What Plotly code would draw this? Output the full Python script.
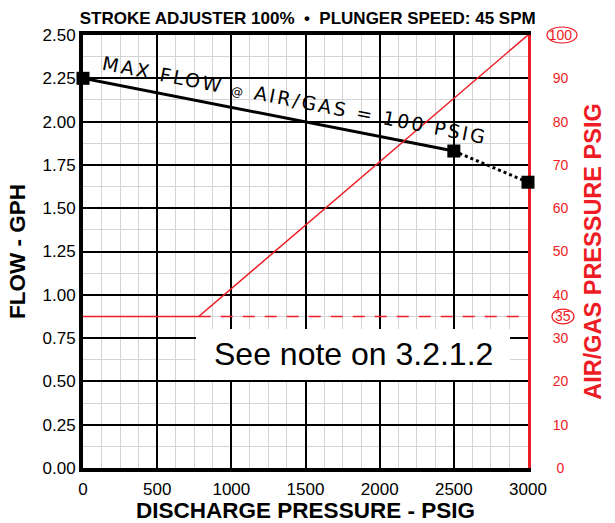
import plotly.graph_objects as go

# ---- data ----
flow_solid_x = [0, 2500]
flow_solid_y = [2.25, 1.83]
flow_dot_x = [2500, 3000]
flow_dot_y = [1.83, 1.65]
air_x = [0, 780, 3000]
air_y = [35, 35, 100]
air_dash_x = [780, 3000]
air_dash_y = [35, 35]
x_ticks = [0, 500, 1000, 1500, 2000, 2500, 3000]
y_ticks = [0, 0.25, 0.5, 0.75, 1.0, 1.25, 1.5, 1.75, 2.0, 2.25, 2.5]
y2_ticks = [0, 10, 20, 30, 40, 50, 60, 70, 80, 90, 100]
NB = "\u00a0"
y2_tick_text = [NB + NB + "0"] + [NB + str(v) for v in y2_ticks[1:-1]] + ["100"]

RED = "#ee1c25"
FONT = "Liberation Sans, Arial, sans-serif"

fig = go.Figure()

fig.add_trace(go.Scatter(x=air_x, y=air_y, yaxis="y2", mode="lines",
                         line=dict(color=RED, width=1.5), hoverinfo="skip"))
fig.add_trace(go.Scatter(x=air_dash_x, y=air_dash_y, yaxis="y2", mode="lines",
                         line=dict(color=RED, width=1.5, dash="12px,10px"), hoverinfo="skip"))
fig.add_trace(go.Scatter(x=flow_dot_x, y=flow_dot_y, mode="lines",
                         line=dict(color="black", width=3, dash="dot")))
fig.add_trace(go.Scatter(x=flow_solid_x, y=flow_solid_y, mode="lines",
                         line=dict(color="black", width=3)))
fig.add_trace(go.Scatter(x=[flow_solid_x[0], flow_solid_x[1], flow_dot_x[1]],
                         y=[flow_solid_y[0], flow_solid_y[1], flow_dot_y[1]],
                         mode="markers", cliponaxis=False,
                         marker=dict(symbol="square", size=13, color="black")))

fig.update_layout(
    width=615, height=523,
    margin=dict(l=83, r=87, t=35, b=55, autoexpand=False),
    paper_bgcolor="white", plot_bgcolor="white",
    showlegend=False,
    font=dict(family=FONT, color="black"),
    title=dict(text="<b>STROKE ADJUSTER 100%  •  PLUNGER SPEED: 45 SPM</b>",
               x=0.505, xref="paper", xanchor="center",
               y=1 - 18 / 523, yref="container", yanchor="middle",
               font=dict(size=17, family=FONT, color="black")),
    xaxis=dict(range=[0, 3000], tickvals=x_ticks, ticks="", automargin=False,
               ticklabelstandoff=3, layer="below traces",
               showgrid=True, gridcolor="black", gridwidth=1.5,
               minor=dict(dtick=125, showgrid=True, gridcolor="#d4d4d4", gridwidth=1),
               showline=True, linecolor="black", linewidth=4, mirror=True,
               zeroline=False, tickfont=dict(size=17, family=FONT),
               title=dict(text="<b>DISCHARGE PRESSURE - PSIG</b>",
                          font=dict(size=22.5, family=FONT), standoff=6)),
    yaxis=dict(range=[0, 2.5], tickvals=y_ticks, tickformat=".2f", ticks="", automargin=False,
               layer="below traces",
               showgrid=True, gridcolor="black", gridwidth=1.5,
               minor=dict(dtick=0.125, showgrid=True, gridcolor="#d4d4d4", gridwidth=1),
               showline=True, linecolor="black", linewidth=4, mirror=False,
               zeroline=False, tickfont=dict(size=17, family=FONT),
               title=dict(text="<b>FLOW - GPH</b>",
                          font=dict(size=22.5, family=FONT), standoff=12)),
    yaxis2=dict(range=[0, 100], tickvals=y2_ticks, ticktext=y2_tick_text,
                overlaying="y", side="right", layer="below traces",
                showgrid=False, zeroline=False, ticks="", ticklabelstandoff=15,
                automargin=False,
                showline=True, linecolor=RED, linewidth=3,
                tickfont=dict(size=14, family=FONT, color=RED),
                title=dict(text="<b>AIR/GAS PRESSURE PSIG</b>",
                           font=dict(size=23.5, family=FONT, color=RED), standoff=14)),
)

# white note box
fig.add_shape(type="rect", xref="x", yref="y", x0=762, x1=2879, y0=0.508, y1=0.803,
              fillcolor="white", line=dict(width=0), layer="above")
fig.add_annotation(x=(762 + 2879) / 2, y=(0.508 + 0.803) / 2, xref="x", yref="y",
                   text="See note on 3.2.1.2", showarrow=False,
                   font=dict(size=32, family=FONT, color="black"))

# rotated curve label
fig.add_annotation(x=1429, y=2.122, xref="x", yref="y",
                   text="<span style='letter-spacing:2.5px'>MAX FLOW "
                        "<span style='font-size:12px'>@</span> AIR/GAS = 100 PSIG</span>",
                   showarrow=False, textangle=11.0,
                   font=dict(size=19, family="DejaVu Sans, sans-serif", color="black"))

# circled right-axis values (paper coordinates; y2 range 0-100 maps to paper 0-1)
fig.add_shape(type="circle", xref="paper", yref="paper",
              x0=(547 - 83) / 445, x1=(577 - 83) / 445, y0=1.0 - 0.0185, y1=1.0 + 0.0185,
              line=dict(color=RED, width=1.2))
fig.add_shape(type="circle", xref="paper", yref="paper",
              x0=(552 - 83) / 445, x1=(574 - 83) / 445, y0=0.35 - 0.017, y1=0.35 + 0.017,
              line=dict(color=RED, width=1.2))
fig.add_annotation(x=(563 - 83) / 445, y=0.35, xref="paper", yref="paper", text="35",
                   xanchor="center", yanchor="middle",
                   showarrow=False, font=dict(size=14, family=FONT, color=RED))

fig.write_html("out.html", config={"displayModeBar": False},
               post_script="document.body.style.margin='0';document.body.style.overflow='hidden';")
